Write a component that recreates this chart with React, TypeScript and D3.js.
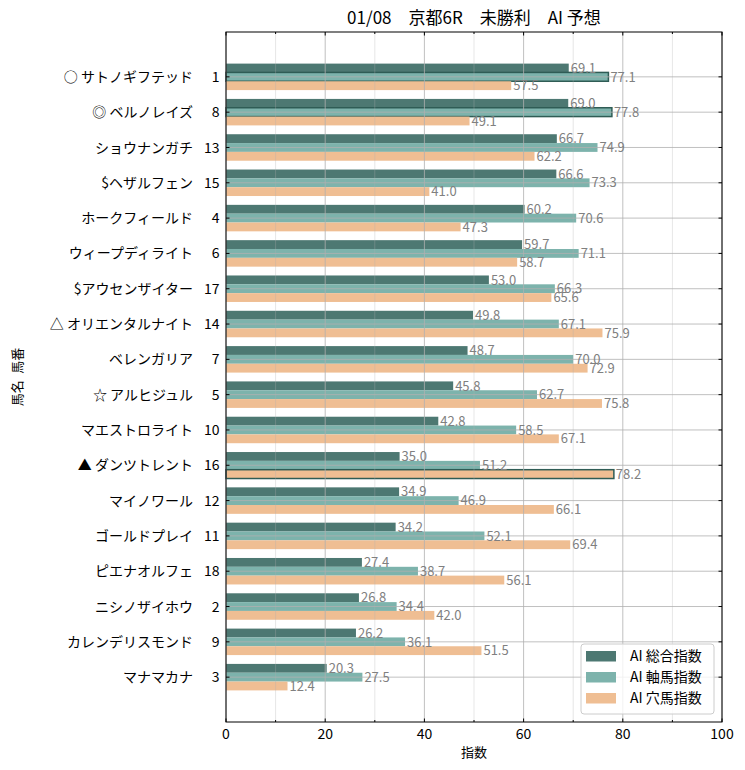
import React from "react";
import * as d3 from "d3";

const horseNames = [
  "○ サトノギフテッド", "◎ ベルノレイズ", "ショウナンガチ", "$ヘザルフェン", "ホークフィールド",
  "ウィープディライト", "$アウセンザイター", "△ オリエンタルナイト", "ベレンガリア", "☆ アルヒジュル",
  "マエストロライト", "▲ ダンツトレント", "マイノワール", "ゴールドプレイ", "ピエナオルフェ",
  "ニシノザイホウ", "カレンデリスモンド", "マナマカナ",
];
const horseNumbers = ["1", "8", "13", "15", "4", "6", "17", "14", "7", "5", "10", "16", "12", "11", "18", "2", "9", "3"];
const totalIndex = [69.1, 69.0, 66.7, 66.6, 60.2, 59.7, 53.0, 49.8, 48.7, 45.8, 42.8, 35.0, 34.9, 34.2, 27.4, 26.8, 26.2, 20.3];
const axisIndex = [77.1, 77.8, 74.9, 73.3, 70.6, 71.1, 66.3, 67.1, 70.0, 62.7, 58.5, 51.2, 46.9, 52.1, 38.7, 34.4, 36.1, 27.5];
const darkIndex = [57.5, 49.1, 62.2, 41.0, 47.3, 58.7, 65.6, 75.9, 72.9, 75.8, 67.1, 78.2, 66.1, 69.4, 56.1, 42.0, 51.5, 12.4];
const seriesNames = ["AI 総合指数", "AI 軸馬指数", "AI 穴馬指数"];
const seriesColors = ["#4d7872", "#7db3ac", "#efbe93"];
// highlighted bars: [seriesIndex, rowIndex]
const highlights: [number, number][] = [[1, 0], [1, 1], [2, 11]];
const xTicks = [0, 20, 40, 60, 80, 100];
const xMinorTicks = [10, 30, 50, 70, 90];
const title = "01/08\u3000京都6R\u3000未勝利\u3000AI 予想";

const W = 745, H = 770;
const L = 226, R = 722, T = 32, B = 722;
const FONT = "'Noto Sans CJK JP', 'Noto Sans', sans-serif";

export default function App() {
  const x = d3.scaleLinear().domain([0, 100]).range([L, R]);
  const y = d3.scaleLinear().domain([-1.27, horseNames.length - 1 + 1.27]).range([T, B]);
  const bh = y(0.25) - y(0);
  const series = [totalIndex, axisIndex, darkIndex];
  const offsets = [-0.25, 0, 0.25];

  return (
    <svg width={W} height={H} style={{ position: "absolute", left: 0, top: 0 }} fontFamily={FONT}>
      <rect x={0} y={0} width={W} height={H} fill="#fff" />
      {/* bars */}
      {series.map((vals, s) =>
        vals.map((v, i) => {
          const hl = highlights.some(([hs, hi]) => hs === s && hi === i);
          const yc = y(i + offsets[s]);
          return (
            <rect key={`b${s}-${i}`} x={x(0)} y={yc - bh / 2} width={x(v) - x(0)} height={bh}
              fill={seriesColors[s]} stroke={hl ? "#2f5c55" : "none"} strokeWidth={hl ? 1.5 : 0} />
          );
        })
      )}
      {/* grid */}
      {xMinorTicks.map((t) => (
        <line key={`gm${t}`} x1={x(t)} x2={x(t)} y1={T} y2={B} stroke="#b0b0b0" strokeOpacity={0.4} strokeWidth={0.8} />
      ))}
      {xTicks.map((t) => (
        <line key={`g${t}`} x1={x(t)} x2={x(t)} y1={T} y2={B} stroke="#b0b0b0" strokeWidth={0.8} />
      ))}
      {horseNames.map((_, i) => (
        <line key={`gh${i}`} x1={L} x2={R} y1={y(i)} y2={y(i)} stroke="#b0b0b0" strokeWidth={0.8} />
      ))}
      {/* value labels */}
      {series.map((vals, s) =>
        vals.map((v, i) => (
          <text key={`t${s}-${i}`} x={x(v) + 2} y={y(i + offsets[s])} dy="0.36em" fontSize={13} fill="#808080">
            {v.toFixed(1)}
          </text>
        ))
      )}
      {/* frame */}
      <rect x={L} y={T} width={R - L} height={B - T} fill="none" stroke="#000" strokeWidth={1} />
      {/* ticks */}
      {xTicks.map((t) => (
        <g key={`xt${t}`}>
          <line x1={x(t)} x2={x(t)} y1={B} y2={B - 3.5} stroke="#000" />
          <line x1={x(t)} x2={x(t)} y1={T} y2={T + 3.5} stroke="#000" />
          <text x={x(t)} y={B + 17} textAnchor="middle" fontSize={14} fill="#000">{t}</text>
        </g>
      ))}
      {xMinorTicks.map((t) => (
        <g key={`xm${t}`}>
          <line x1={x(t)} x2={x(t)} y1={B} y2={B - 2} stroke="#000" />
          <line x1={x(t)} x2={x(t)} y1={T} y2={T + 2} stroke="#000" />
        </g>
      ))}
      {horseNames.map((name, i) => (
        <g key={`yt${i}`}>
          <line x1={L} x2={L + 3.5} y1={y(i)} y2={y(i)} stroke="#000" />
          <line x1={R} x2={R - 3.5} y1={y(i)} y2={y(i)} stroke="#000" />
          <text x={193} y={y(i)} dy="0.36em" textAnchor="end" fontSize={14} fill="#000">{name}</text>
          <text x={219.5} y={y(i)} dy="0.36em" textAnchor="end" fontSize={14} fill="#000">{horseNumbers[i]}</text>
        </g>
      ))}
      {/* axis labels */}
      <text x={(L + R) / 2} y={757} textAnchor="middle" fontSize={13} fill="#000">指数</text>
      <text transform={`translate(22, ${(T + B) / 2}) rotate(-90)`} textAnchor="middle" fontSize={13} fill="#000">{"馬名\u2002馬番"}</text>
      {/* title */}
      <text x={(L + R) / 2} y={24} textAnchor="middle" fontSize={17} fill="#000">{title}</text>
      {/* legend */}
      <g>
        <rect x={581} y={644} width={133} height={70} rx={3} fill="#fff" fillOpacity={0.8} stroke="#cccccc" />
        {seriesNames.map((n, s) => (
          <g key={`lg${s}`}>
            <rect x={586} y={651 + s * 21} width={30} height={10.5} fill={seriesColors[s]} />
            <text x={630} y={656 + s * 21} dy="0.36em" fontSize={14} fill="#000">{n}</text>
          </g>
        ))}
      </g>
    </svg>
  );
}
